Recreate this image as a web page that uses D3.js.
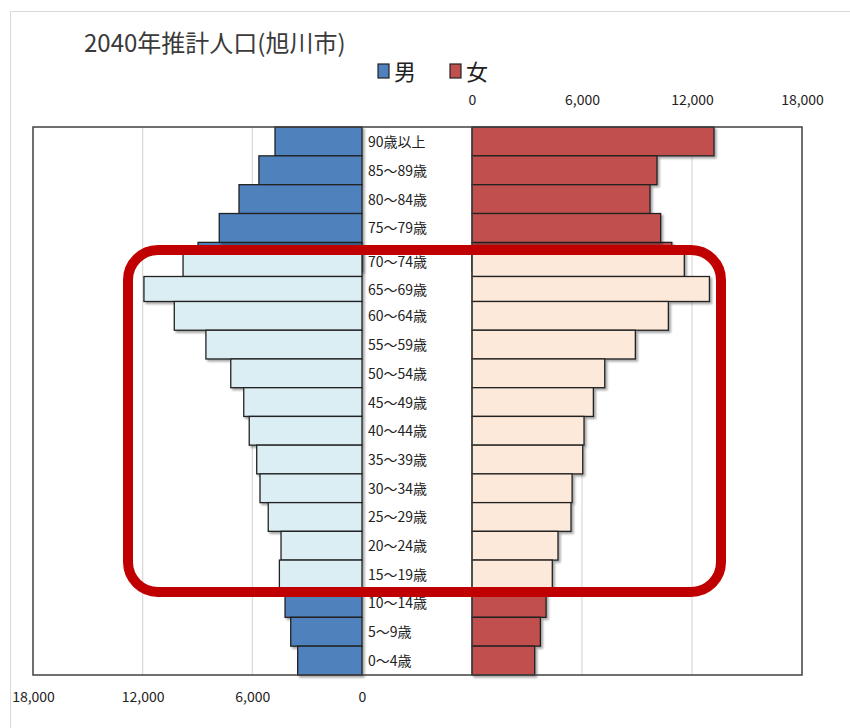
<!DOCTYPE html>
<html><head><meta charset="utf-8">
<script src="https://cdn.jsdelivr.net/npm/d3@7"></script>
<style>
html,body{margin:0;padding:0;background:#fff;}
text{font-family:"Noto Sans CJK JP","Noto Sans",sans-serif;}
</style></head>
<body><svg id="c" width="850" height="728"></svg>
<script>
const title = "2040年推計人口(旭川市)";
const categories = ["90歳以上","85～89歳","80～84歳","75～79歳","70～74歳","65～69歳","60～64歳","55～59歳","50～54歳","45～49歳","40～44歳","35～39歳","30～34歳","25～29歳","20～24歳","15～19歳","10～14歳","5～9歳","0～4歳"];
const male   = [4760,5640,6730,7810,9790,11930,10270,8540,7180,6470,6170,5760,5580,5130,4430,4520,4210,3900,3520];
const female = [13200,10090,9710,10290,11580,12950,10710,8910,7240,6620,6110,6040,5460,5400,4690,4380,4040,3730,3420];
// rows highlighted (overlay drawn in pale colours)
const highlighted = ["70～74歳","65～69歳","60～64歳","55～59歳","50～54歳","45～49歳","40～44歳","35～39歳","30～34歳","25～29歳","20～24歳","15～19歳"];
// bars of the underlying chart that peek out above the highlight frame
const baseCategory = ["70～74歳"];
const baseMale = [8970];
const baseFemale = [10900];
const tickValues = [0,6000,12000,18000];
const gridValues = [6000,12000];
const legendLabels = ["男","女"];

const colors = {male:"#4f81bd", female:"#c0504d", maleLight:"#dbeef4", femaleLight:"#fde9d9"};

const svg = d3.select("#c");
const yTop = 127, yBottom = 675;
const xL = d3.scaleLinear().domain([0,18000]).range([362,33]);
const xR = d3.scaleLinear().domain([0,18000]).range([472,802]);
const y = d3.scaleBand().domain(categories).range([yTop,yBottom]).padding(0);
// the pasted overlay is slightly shifted down at its top
const yO = d3.scaleLinear()
  .domain([y(highlighted[0]), y(highlighted[1]), y(highlighted[2]), yBottom])
  .range([247, 276.5, 301.5, yBottom]);
const fmt = d3.format(",");

// outer chart border
svg.append("rect").attr("x",10.5).attr("y",11.5).attr("width",900).attr("height",800)
  .attr("fill","#fff").attr("stroke","#d9d9d9");

const defs = svg.append("defs");
const f = defs.append("filter").attr("id","sh").attr("x","-10%").attr("y","-20%").attr("width","130%").attr("height","160%");
f.append("feDropShadow").attr("dx",2).attr("dy",2).attr("stdDeviation",1.2).attr("flood-color","#000").attr("flood-opacity",0.35);

// title
svg.append("text").attr("x",84).attr("y",52).attr("font-size",24).attr("fill","#3a3a3a").text(title);

// legend
const lg = svg.append("g");
[[378,colors.male],[450,colors.female]].forEach((d,i)=>{
  lg.append("rect").attr("x",d[0]).attr("y",64).attr("width",11).attr("height",14)
    .attr("fill",d[1]).attr("stroke","#222").attr("stroke-width",1.2);
  lg.append("text").attr("x",d[0]+16).attr("y",80).attr("font-size",22).attr("fill","#222").text(legendLabels[i]);
});

// gridlines
const g = svg.append("g");
gridValues.forEach(v=>{
  g.append("line").attr("x1",xL(v)).attr("x2",xL(v)).attr("y1",yTop).attr("y2",yBottom).attr("stroke","#d9d9d9").attr("stroke-width",1.2);
  g.append("line").attr("x1",xR(v)).attr("x2",xR(v)).attr("y1",yTop).attr("y2",yBottom).attr("stroke","#d9d9d9").attr("stroke-width",1.2);
});

// label column background
svg.append("rect").attr("x",xL(0)).attr("y",yTop).attr("width",xR(0)-xL(0)).attr("height",yBottom-yTop).attr("fill","#fff");

const isHi = c => highlighted.includes(c);

// base bars peeking above the frame
const base = svg.append("g").attr("filter","url(#sh)");
baseCategory.forEach((c,i)=>{
  base.append("rect").attr("x",xL(baseMale[i])).attr("y",y(c)).attr("width",xL(0)-xL(baseMale[i])).attr("height",y.bandwidth())
    .attr("fill",colors.male).attr("stroke","#222").attr("stroke-width",1.3);
  base.append("rect").attr("x",xR(0)).attr("y",y(c)).attr("width",xR(baseFemale[i])-xR(0)).attr("height",y.bandwidth())
    .attr("fill",colors.female).attr("stroke","#222").attr("stroke-width",1.3);
});

const y0 = c => isHi(c) ? yO(y(c)) : y(c);
const y1 = c => isHi(c) ? yO(y(c)+y.bandwidth()) : y(c)+y.bandwidth();

function drawBars(gsel, cats){
  gsel.selectAll("rect.m").data(cats).join("rect").attr("class","m")
    .attr("x",c=>xL(male[categories.indexOf(c)])).attr("y",y0)
    .attr("width",c=>xL(0)-xL(male[categories.indexOf(c)])).attr("height",c=>y1(c)-y0(c))
    .attr("fill",c=>isHi(c)?colors.maleLight:colors.male).attr("stroke","#222").attr("stroke-width",1.3);
  gsel.selectAll("rect.f").data(cats).join("rect").attr("class","f")
    .attr("x",xR(0)).attr("y",y0)
    .attr("width",c=>xR(female[categories.indexOf(c)])-xR(0)).attr("height",c=>y1(c)-y0(c))
    .attr("fill",c=>isHi(c)?colors.femaleLight:colors.female).attr("stroke","#222").attr("stroke-width",1.3);
}
drawBars(svg.append("g").attr("filter","url(#sh)"), categories.filter(c=>!isHi(c)));
drawBars(svg.append("g").attr("filter","url(#sh)"), highlighted);

// category labels
svg.append("g").selectAll("text").data(categories).join("text")
  .attr("x",368).attr("y",c=>(y0(c)+y1(c))/2+5.5).attr("font-size",14).attr("fill","#222")
  .text(c=>c);

// frame
svg.append("rect").attr("x",33).attr("y",yTop).attr("width",802-33).attr("height",yBottom-yTop)
  .attr("fill","none").attr("stroke","#404040").attr("stroke-width",1.5);
svg.append("line").attr("x1",xR(0)).attr("x2",xR(0)).attr("y1",yTop).attr("y2",yBottom).attr("stroke","#404040").attr("stroke-width",1.2);

// axes
const axTop = svg.append("g").attr("transform",`translate(0,${yTop-24})`)
  .call(d3.axisTop(xR).tickValues(tickValues).tickFormat(fmt).tickSize(0));
axTop.select(".domain").remove();
axTop.selectAll("text").attr("font-size",14).attr("fill","#222").attr("font-family","'Noto Sans CJK JP',sans-serif").attr("dy","0.35em");
const axBot = svg.append("g").attr("transform",`translate(0,${yBottom+14})`)
  .call(d3.axisBottom(xL).tickValues(tickValues).tickFormat(fmt).tickSize(0));
axBot.select(".domain").remove();
axBot.selectAll("text").attr("font-size",14).attr("fill","#222").attr("font-family","'Noto Sans CJK JP',sans-serif");

// highlight frame
svg.append("rect").attr("x",128).attr("y",250).attr("width",593).attr("height",342).attr("rx",30)
  .attr("fill","none").attr("stroke","#c00000").attr("stroke-width",10);
</script></body></html>
